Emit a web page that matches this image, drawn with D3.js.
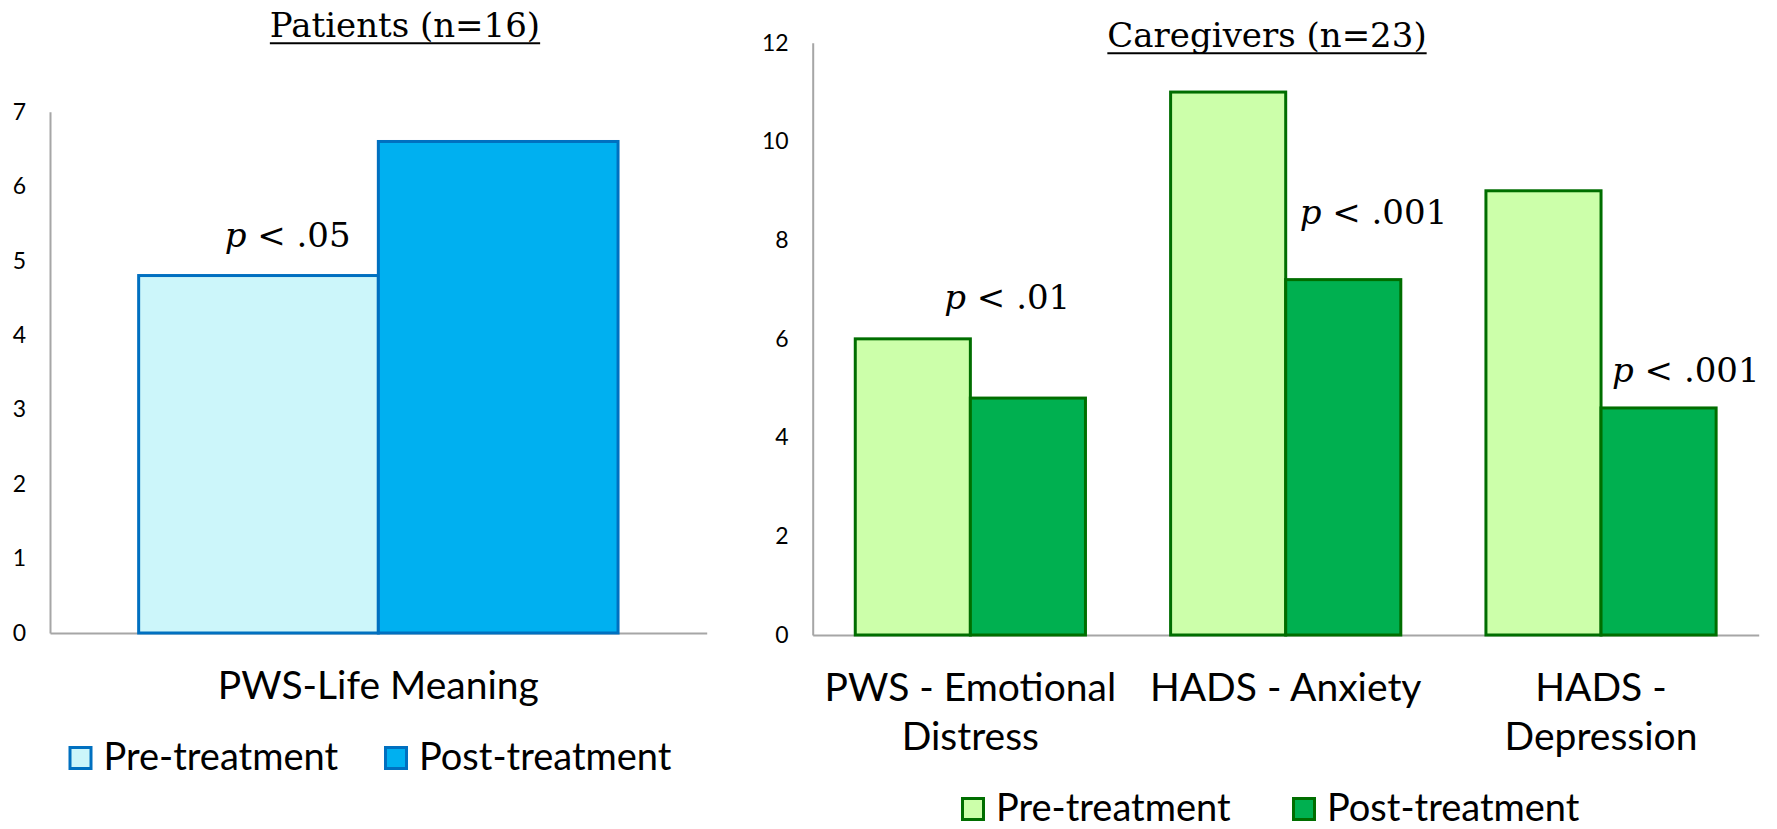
<!DOCTYPE html>
<html>
<head>
<meta charset="utf-8">
<script src="https://cdn.jsdelivr.net/npm/d3@7"></script>
<style>
  body { margin: 0; background: #fff; }
  text { fill: #000; }
  .tick text { font-family: Lato, "Open Sans", sans-serif; font-size: 23px; }
  .cat { font-family: Lato, "Open Sans", sans-serif; font-size: 39px; }
  .legend text { font-family: Lato, "Open Sans", sans-serif; font-size: 38px; }
  .title { font-family: "DejaVu Serif", serif; font-size: 34px; }
  .pval { font-family: "DejaVu Serif", serif; font-size: 34px; white-space: pre; }
</style>
</head>
<body>
<svg id="chart" width="1777" height="829"></svg>
<script>
const seriesNames = ["Pre-treatment", "Post-treatment"];

const patientCats = [["PWS-Life Meaning"]];
const patientPre = [4.8];
const patientPost = [6.6];
const patientTicks = [0, 1, 2, 3, 4, 5, 6, 7];
const patientP = ["p < .05"];

const caregiverCats = [["PWS - Emotional", "Distress"], ["HADS - Anxiety"], ["HADS -", "Depression"]];
const caregiverPre = [6, 11, 9];
const caregiverPost = [4.8, 7.2, 4.6];
const caregiverTicks = [0, 2, 4, 6, 8, 10, 12];
const caregiverP = ["p < .01", "p < .001", "p < .001"];

const AXIS_COLOR = "#a6a6a6",
      BAR_STROKE_W = 3,
      TICK_PAD = 24,
      CAT_LINE_H = 48.5;

const svg = d3.select("#chart");

function drawChart(cfg) {
  let g = svg.append("g");
  let keys = cfg.cats.map((c, i) => i);

  let x = d3.scaleBand()
    .domain(keys)
    .range(cfg.xRange)
    .paddingInner(0.27)
    .paddingOuter(0.135);

  let y = d3.scaleLinear()
    .domain([0, d3.max(cfg.ticks)])
    .range(cfg.yRange);

  let xs = d3.scaleBand()
    .domain([0, 1])
    .range([0, x.bandwidth()]);

  // axes
  let yAxis = g.append("g")
    .attr("transform", "translate(" + cfg.xRange[0] + ",0)")
    .call(d3.axisLeft(y).tickValues(cfg.ticks).tickSize(0).tickPadding(TICK_PAD).tickFormat(d3.format("d")));
  yAxis.select(".domain").attr("stroke", AXIS_COLOR).attr("stroke-width", 2);

  let xAxis = g.append("g")
    .attr("transform", "translate(0," + cfg.yRange[0] + ")")
    .call(d3.axisBottom(x).tickSize(0).tickFormat(""));
  xAxis.select(".domain").attr("stroke", AXIS_COLOR).attr("stroke-width", 2);

  // bars
  let rows = [];
  keys.forEach(k => {
    rows.push({k: k, s: 0, v: cfg.pre[k]});
    rows.push({k: k, s: 1, v: cfg.post[k]});
  });

  g.append("g").selectAll("rect")
    .data(rows)
    .join("rect")
    .attr("x", d => x(d.k) + xs(d.s))
    .attr("y", d => y(d.v))
    .attr("width", xs.bandwidth())
    .attr("height", d => y(0) - y(d.v))
    .attr("fill", d => cfg.fills[d.s])
    .attr("stroke", cfg.stroke)
    .attr("stroke-width", BAR_STROKE_W);

  // category labels
  g.append("g").selectAll("text")
    .data(keys)
    .join("text")
    .attr("class", "cat")
    .attr("text-anchor", "middle")
    .attr("x", k => x(k) + x.bandwidth() / 2)
    .attr("y", cfg.yRange[0] + 66)
    .selectAll("tspan")
    .data(k => cfg.cats[k])
    .join("tspan")
    .attr("x", function() { return this.parentNode.getAttribute("x"); })
    .attr("dy", (d, i) => i ? CAT_LINE_H : 0)
    .text(d => d);

  // p-value notes
  cfg.pvals.forEach((txt, k) => {
    let pl = cfg.pPlace[k],
        v = pl.s ? cfg.post[k] : cfg.pre[k];
    let t = g.append("text")
      .attr("class", "pval")
      .attr("x", x(k) + xs(pl.s) + pl.dx)
      .attr("y", y(v) + pl.dy);
    t.append("tspan").style("font-style", "italic").text(txt.slice(0, 1));
    t.append("tspan").text(txt.slice(1));
  });

  // title
  let title = g.append("text")
    .attr("class", "title")
    .attr("text-anchor", "middle")
    .attr("x", cfg.titleX)
    .attr("y", cfg.titleY)
    .text(cfg.title);
  let tb = title.node().getBBox();
  g.append("line")
    .attr("x1", tb.x).attr("x2", tb.x + tb.width)
    .attr("y1", cfg.titleY + 6.5).attr("y2", cfg.titleY + 6.5)
    .attr("stroke", "#000").attr("stroke-width", 2);

  // legend
  let leg = g.append("g").attr("class", "legend");
  seriesNames.forEach((name, i) => {
    let lx = cfg.legendX[i];
    leg.append("rect")
      .attr("x", lx + 1.5)
      .attr("y", cfg.legendY - 22.5)
      .attr("width", 21)
      .attr("height", 21)
      .attr("fill", cfg.fills[i])
      .attr("stroke", cfg.stroke)
      .attr("stroke-width", BAR_STROKE_W);
    leg.append("text")
      .attr("x", lx + 35)
      .attr("y", cfg.legendY)
      .text(name);
  });
}

drawChart({
  cats: patientCats,
  pre: patientPre,
  post: patientPost,
  ticks: patientTicks,
  pvals: patientP,
  pPlace: [{s: 0, dx: 86, dy: -29}],
  xRange: [50, 706.7],
  yRange: [633, 111.7],
  fills: ["#ccf6fa", "#00b0f0"],
  stroke: "#0070c0",
  title: "Patients (n=16)",
  titleX: 405,
  titleY: 36.7,
  legendX: [68.5, 384],
  legendY: 770
});

drawChart({
  cats: caregiverCats,
  pre: caregiverPre,
  post: caregiverPost,
  ticks: caregiverTicks,
  pvals: caregiverP,
  pPlace: [{s: 0, dx: 89, dy: -30}, {s: 1, dx: 14, dy: -56}, {s: 1, dx: 11, dy: -26}],
  xRange: [812.7, 1758.7],
  yRange: [635, 42.7],
  fills: ["#ccffaa", "#00b050"],
  stroke: "#006e00",
  title: "Caregivers (n=23)",
  titleX: 1267,
  titleY: 46.7,
  legendX: [961, 1292],
  legendY: 821
});
</script>
</body>
</html>
